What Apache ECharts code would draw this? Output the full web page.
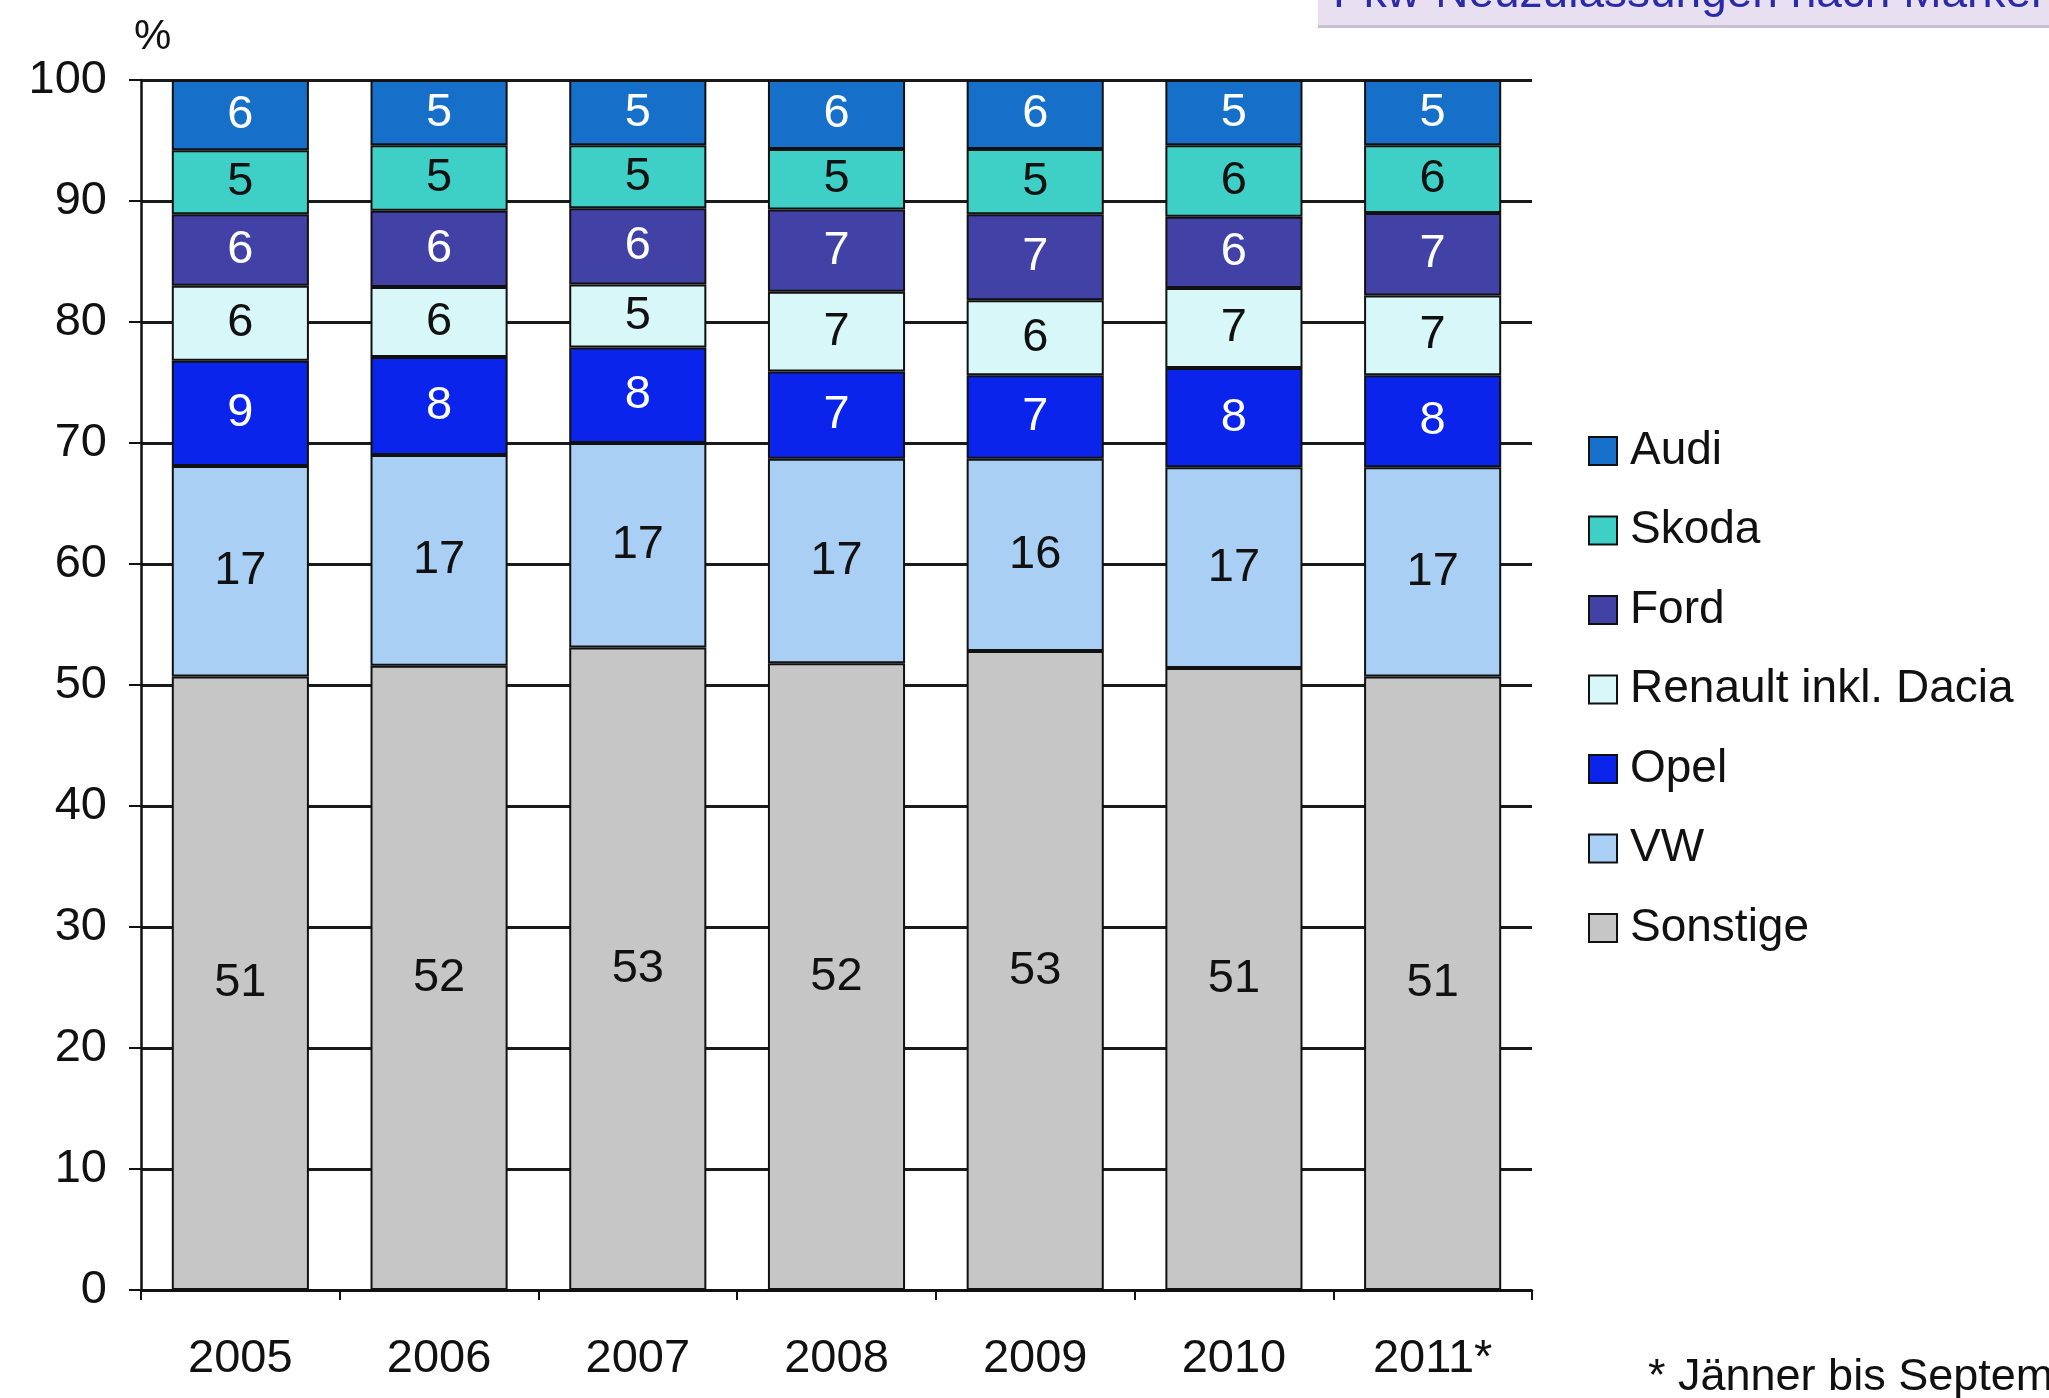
<!DOCTYPE html>
<html>
<head>
<meta charset="utf-8">
<script src="https://cdn.jsdelivr.net/npm/echarts@6/dist/echarts.min.js"></script>
<style>
html,body{margin:0;padding:0;background:#fff;}
#chart{width:2049px;height:1398px;}
</style>
</head>
<body>
<div id="chart"></div>
<script>
const categories = ['2005', '2006', '2007', '2008', '2009', '2010', '2011*'];
const yTicks = [0, 10, 20, 30, 40, 50, 60, 70, 80, 90, 100];
const sonstige = [50.7, 51.6, 53.1, 51.8, 52.8, 51.4, 50.7];
const vw       = [17.4, 17.4, 16.9, 16.9, 15.9, 16.6, 17.3];
const opel     = [8.7, 8.1, 7.9, 7.2, 6.9, 8.2, 7.6];
const renault  = [6.2, 5.8, 5.2, 6.6, 6.2, 6.6, 6.6];
const ford     = [5.9, 6.3, 6.3, 6.8, 7.1, 5.9, 6.8];
const skoda    = [5.3, 5.4, 5.2, 5.0, 5.4, 5.9, 5.6];
const audi     = [5.8, 5.4, 5.4, 5.7, 5.7, 5.4, 5.4];
const legendOrder = ['Audi', 'Skoda', 'Ford', 'Renault inkl. Dacia', 'Opel', 'VW', 'Sonstige'];

const FONT = '"Liberation Sans", Arial, sans-serif';
const seriesDefs = [
  { name: 'Sonstige', data: sonstige, color: '#c6c6c6', label: '#111' },
  { name: 'VW', data: vw, color: '#a9d0f4', label: '#111' },
  { name: 'Opel', data: opel, color: '#0a24ec', label: '#fff' },
  { name: 'Renault inkl. Dacia', data: renault, color: '#d8f7f8', label: '#111' },
  { name: 'Ford', data: ford, color: '#4141a6', label: '#fff' },
  { name: 'Skoda', data: skoda, color: '#3ecfc6', label: '#111' },
  { name: 'Audi', data: audi, color: '#1670c9', label: '#fff' }
];

const chart = echarts.init(document.getElementById('chart'));
chart.setOption({
  animation: false,
  backgroundColor: '#fff',
  grid: { left: 141, right: 517, top: 80, bottom: 108 },
  xAxis: {
    type: 'category',
    data: categories,
    axisLine: { lineStyle: { color: '#111', width: 2.5 } },
    axisTick: { show: true, length: 10, lineStyle: { color: '#111', width: 2 } },
    axisLabel: { color: '#111', fontSize: 47, fontFamily: FONT, margin: 46 }
  },
  yAxis: {
    type: 'value',
    min: 0, max: 100, interval: 10,
    axisLine: { show: true, lineStyle: { color: '#111', width: 2.5 } },
    axisTick: { show: true, length: 12, lineStyle: { color: '#111', width: 2 } },
    axisLabel: { color: '#111', fontSize: 47, fontFamily: FONT, margin: 34,
      formatter: v => yTicks.includes(v) ? String(v) : '' },
    splitLine: { show: true, lineStyle: { color: '#1a1a1a', width: 2.8 } }
  },
  legend: {
    orient: 'vertical',
    left: 1583, top: 423,
    data: legendOrder,
    icon: 'rect',
    itemWidth: 28, itemHeight: 28, itemGap: 33.5,
    textStyle: { color: '#111', fontSize: 46, fontFamily: FONT, lineHeight: 44, padding: [0, 0, 0, 8] }
  },
  graphic: [
    { type: 'rect', left: 1318, top: 0, shape: { width: 760, height: 26 },
      style: { fill: '#e8e0f0' }, z: 1 },
    { type: 'rect', left: 1318, top: 25, shape: { width: 760, height: 3 },
      style: { fill: '#c8c0d0' }, z: 1 },
    { type: 'text', left: 1333, bottom: 1398 - 17, z: 2,
      style: { text: 'Pkw-Neuzulassungen nach Marken', fill: '#2b2ba8', fontSize: 46, fontFamily: FONT } },
    { type: 'text', left: 134, top: 16,
      style: { text: '%', fill: '#111', fontSize: 42, fontFamily: FONT } },
    { type: 'text', left: 1648, top: 1355,
      style: { text: '* Jänner bis September', fill: '#111', fontSize: 45, fontFamily: FONT } }
  ],
  series: seriesDefs.map(s => ({
    name: s.name,
    type: 'bar',
    stack: 'total',
    barWidth: '69%',
    data: s.data,
    itemStyle: { color: s.color, borderColor: '#111', borderWidth: 2 },
    label: {
      show: true, position: 'inside', color: s.label,
      fontSize: 47, fontFamily: FONT,
      formatter: p => String(Math.round(p.value))
    }
  }))
});
</script>
</body>
</html>
